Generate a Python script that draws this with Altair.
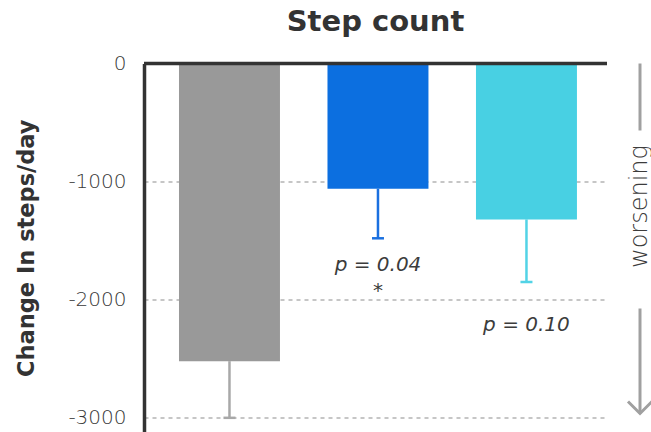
import altair as alt
import pandas as pd

FONT = "DejaVu Sans"

# Mean change in daily steps per group, with the lower error half-width
groups = ["Group 1", "Group 2", "Group 3"]
means = [-2520, -1060, -1320]
errors = [480, 420, 530]
bar_colors = ["#999999", "#0c6fe0", "#48d0e3"]
err_colors = ["#a8a8a8", "#1a70e0", "#52d3e6"]

# Significance notes under the error bars
note_groups = ["Group 2", "Group 2", "Group 3"]
note_texts = ["p = 0.04", "*", "p = 0.10"]
note_values = [-1705, -1925, -2215]

y_ticks = [-3000, -2000, -1000, 0]

bars = pd.DataFrame({
    "group": groups,
    "mean": means,
    "low": [m - e for m, e in zip(means, errors)],
    "bar_color": bar_colors,
    "err_color": err_colors,
})
notes = pd.DataFrame({"group": note_groups, "text": note_texts, "value": note_values})

x = alt.X("group:N", sort=groups, axis=None,
          scale=alt.Scale(paddingInner=0.32, paddingOuter=0.219, align=0.538))
yscale = alt.Scale(domain=[-3120, 0], nice=False, zero=False)

base = alt.Chart(bars)

bar_layer = base.mark_bar().encode(
    x=x,
    y=alt.Y("mean:Q", scale=yscale,
            title="Change In steps/day",
            axis=alt.Axis(values=y_ticks, labelExpr="datum.value + ''",
                          ticks=False, grid=True, gridDash=[4, 4],
                          gridColor="#c6c6c6", gridWidth=2,
                          domainColor="#333333", domainWidth=3.5,
                          labelFontSize=20, labelColor="#383838",
                          labelFont=FONT, labelFontWeight=200, labelPadding=18,
                          titleFontSize=22.5, titleFont=FONT, titleColor="#333333",
                          titleFontWeight="bold", titlePadding=29)),
    y2=alt.datum(0),
    color=alt.Color("bar_color:N", scale=None),
)

err_line = base.mark_rule(strokeWidth=2.5).encode(
    x=x, y=alt.Y("mean:Q", scale=yscale), y2="low:Q",
    color=alt.Color("err_color:N", scale=None),
)
err_cap = base.mark_tick(size=12, thickness=2.5, opacity=1).encode(
    x=x, y=alt.Y("low:Q", scale=yscale),
    color=alt.Color("err_color:N", scale=None),
)

zero_line = alt.Chart(pd.DataFrame({"v": [0]})).mark_rule(
    color="#333333", strokeWidth=3.5
).encode(y=alt.Y("v:Q", scale=yscale), x=alt.value(0), x2=alt.value(463))

note_layer = alt.Chart(notes).mark_text(
    font=FONT, fontSize=20, fontStyle="italic", color="#3c3c3c", fontWeight=200
).encode(x=x, y=alt.Y("value:Q", scale=yscale), text="text:N")

# "worsening" direction marker on the right
side = pd.DataFrame({"label": ["worsening"]})
side_text = alt.Chart(side).mark_text(
    font=FONT, fontSize=24, color="#3c3c3c", angle=270, fontWeight=200
).encode(x=alt.value(495.5), y=alt.value(143), text="label:N")
side_top = alt.Chart(side).mark_rule(color="#a0a0a0", strokeWidth=3).encode(
    x=alt.value(496), y=alt.value(0), y2=alt.value(67))
side_arrow = alt.Chart(side).mark_rule(color="#a0a0a0", strokeWidth=3).encode(
    x=alt.value(496), y=alt.value(245), y2=alt.value(350))
side_head = alt.Chart(side).mark_point(
    shape="M-1,-1L0,0L1,-1", size=576, filled=False, strokeWidth=3,
    color="#a0a0a0", opacity=1
).encode(x=alt.value(496), y=alt.value(350))

chart = alt.layer(
    bar_layer, err_line, err_cap, zero_line, note_layer,
    side_text, side_top, side_arrow, side_head
).properties(
    width=463, height=368.5,
    background="white",
    title=alt.TitleParams("Step count", fontSize=29, font=FONT,
                          fontWeight="bold", color="#333333",
                          anchor="middle", frame="group", offset=17),
    autosize=alt.AutoSizeParams(type="none"),
    padding={"left": 144, "top": 63.5, "right": 44, "bottom": 0},
).configure_view(stroke="transparent", strokeWidth=0)

chart.save("out.html", embed_options={"renderer": "svg", "actions": False})
